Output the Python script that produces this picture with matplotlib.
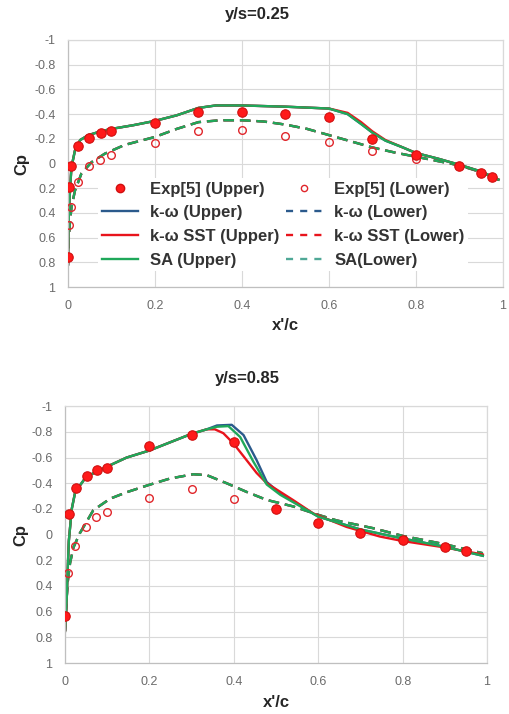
import matplotlib
matplotlib.use('Agg')
import matplotlib.pyplot as plt
from matplotlib.lines import Line2D

plt.rcParams['font.family'] = ['Liberation Sans', 'DejaVu Sans']

# ---- y/s = 0.25 ----
exp25_up_x = [0.0, 0.002, 0.008, 0.024, 0.049, 0.075, 0.1, 0.2, 0.3, 0.4, 0.5, 0.6, 0.7, 0.8, 0.9, 0.95, 0.975]
exp25_up_cp = [0.76, 0.19, 0.02, -0.14, -0.21, -0.25, -0.26, -0.33, -0.415, -0.42, -0.40, -0.38, -0.20, -0.07, 0.02, 0.08, 0.11]
exp25_lo_x = [0.0015, 0.008, 0.022, 0.048, 0.074, 0.1, 0.2, 0.3, 0.4, 0.5, 0.6, 0.7, 0.8]
exp25_lo_cp = [0.50, 0.355, 0.15, 0.02, -0.03, -0.07, -0.165, -0.265, -0.27, -0.22, -0.175, -0.105, -0.04]

up25_x = [0.0, 0.002, 0.005, 0.008, 0.016, 0.028, 0.047, 0.075, 0.1, 0.15, 0.2, 0.25, 0.3, 0.34,
          0.4, 0.5, 0.6, 0.643, 0.674, 0.7, 0.73, 0.77, 0.8, 0.85, 0.9, 0.95, 0.99]
kw25_up = [0.82, 0.41, 0.19, 0.03, -0.105, -0.19, -0.23, -0.26, -0.28, -0.31, -0.345, -0.39, -0.45, -0.47,
           -0.47, -0.46, -0.445, -0.40, -0.32, -0.25, -0.185, -0.13, -0.085, -0.04, 0.01, 0.065, 0.13]
sst25_up = [0.82, 0.41, 0.19, 0.03, -0.105, -0.19, -0.23, -0.26, -0.28, -0.31, -0.345, -0.39, -0.45, -0.47,
            -0.47, -0.46, -0.445, -0.41, -0.335, -0.26, -0.19, -0.13, -0.085, -0.04, 0.01, 0.065, 0.13]
sa25_up = [0.82, 0.41, 0.19, 0.03, -0.105, -0.19, -0.23, -0.26, -0.28, -0.31, -0.345, -0.39, -0.45, -0.47,
           -0.47, -0.46, -0.445, -0.40, -0.32, -0.25, -0.185, -0.13, -0.085, -0.04, 0.01, 0.065, 0.13]

lo25_x = [0.0, 0.001, 0.004, 0.008, 0.016, 0.031, 0.054, 0.085, 0.13, 0.2, 0.25, 0.3, 0.35, 0.4, 0.45,
          0.5, 0.55, 0.6, 0.65, 0.7, 0.75, 0.8, 0.85, 0.9, 0.95, 0.99]
kw25_lo = [0.82, 0.65, 0.5, 0.355, 0.22, 0.08, -0.01, -0.08, -0.15, -0.215, -0.28, -0.335, -0.35, -0.35, -0.34,
           -0.315, -0.28, -0.23, -0.18, -0.13, -0.09, -0.055, -0.02, 0.015, 0.07, 0.13]
sst25_lo = [0.82, 0.65, 0.5, 0.355, 0.22, 0.08, -0.01, -0.08, -0.15, -0.215, -0.28, -0.335, -0.35, -0.35, -0.34,
            -0.315, -0.28, -0.23, -0.18, -0.13, -0.09, -0.055, -0.02, 0.015, 0.07, 0.13]
sa25_lo = [0.82, 0.65, 0.5, 0.355, 0.22, 0.08, -0.01, -0.08, -0.15, -0.215, -0.28, -0.335, -0.35, -0.35, -0.34,
           -0.315, -0.28, -0.23, -0.18, -0.13, -0.09, -0.055, -0.02, 0.015, 0.07, 0.13]

# ---- y/s = 0.85 ----
exp85_up_x = [0.0, 0.01, 0.026, 0.051, 0.075, 0.1, 0.2, 0.3, 0.4, 0.5, 0.6, 0.7, 0.8, 0.9, 0.95]
exp85_up_cp = [0.635, -0.157, -0.36, -0.46, -0.50, -0.52, -0.69, -0.775, -0.725, -0.20, -0.087, -0.01, 0.045, 0.10, 0.13]
exp85_lo_x = [0.007, 0.024, 0.049, 0.074, 0.1, 0.2, 0.3, 0.4]
exp85_lo_cp = [0.30, 0.085, -0.056, -0.136, -0.175, -0.287, -0.357, -0.28]

kw85_up_x = [0.0, 0.004, 0.006, 0.009, 0.016, 0.024, 0.05, 0.1, 0.146, 0.2, 0.25, 0.3, 0.336, 0.36, 0.395,
             0.423, 0.454, 0.478, 0.51, 0.6, 0.7, 0.8, 0.9, 0.99]
kw85_up = [0.75, 0.5, 0.3, 0.05, -0.2, -0.33, -0.45, -0.53, -0.6, -0.655, -0.72, -0.785, -0.82, -0.85, -0.855,
           -0.775, -0.58, -0.41, -0.32, -0.14, -0.04, 0.03, 0.095, 0.165]
sst85_up_x = [0.0, 0.004, 0.006, 0.009, 0.016, 0.024, 0.05, 0.1, 0.146, 0.2, 0.25, 0.3, 0.336, 0.355, 0.375,
              0.399, 0.423, 0.454, 0.478, 0.54, 0.588, 0.667, 0.746, 0.8, 0.9, 0.99]
sst85_up = [0.75, 0.5, 0.3, 0.05, -0.2, -0.33, -0.45, -0.53, -0.6, -0.655, -0.72, -0.785, -0.82, -0.82, -0.79,
            -0.71, -0.61, -0.48, -0.40, -0.27, -0.165, -0.06, 0.015, 0.05, 0.10, 0.155]
sa85_up_x = [0.0, 0.004, 0.006, 0.009, 0.016, 0.024, 0.05, 0.1, 0.146, 0.2, 0.25, 0.3, 0.336, 0.36, 0.387,
             0.415, 0.446, 0.478, 0.51, 0.6, 0.7, 0.8, 0.9, 0.99]
sa85_up = [0.75, 0.5, 0.3, 0.05, -0.2, -0.33, -0.45, -0.53, -0.6, -0.655, -0.72, -0.785, -0.82, -0.84, -0.845,
           -0.76, -0.57, -0.39, -0.31, -0.14, -0.04, 0.03, 0.095, 0.165]

lo85_x = [0.0, 0.003, 0.006, 0.012, 0.02, 0.035, 0.067, 0.107, 0.146, 0.197, 0.249, 0.304, 0.336, 0.383, 0.43,
          0.478, 0.54, 0.604, 0.644, 0.73, 0.8, 0.9, 0.99]
kw85_lo = [0.75, 0.55, 0.38, 0.22, 0.1, -0.01, -0.19, -0.28, -0.33, -0.385, -0.437, -0.47, -0.463, -0.40, -0.333,
           -0.27, -0.22, -0.15, -0.11, -0.05, 0.01, 0.075, 0.145]
sst85_lo = [0.75, 0.55, 0.38, 0.22, 0.1, -0.01, -0.19, -0.28, -0.33, -0.385, -0.437, -0.47, -0.463, -0.40, -0.333,
            -0.27, -0.22, -0.15, -0.11, -0.05, 0.01, 0.075, 0.145]
sa85_lo = [0.75, 0.55, 0.38, 0.22, 0.1, -0.01, -0.19, -0.28, -0.33, -0.385, -0.437, -0.47, -0.463, -0.40, -0.333,
           -0.27, -0.22, -0.15, -0.11, -0.05, 0.01, 0.075, 0.145]

x_ticks = [0, 0.2, 0.4, 0.6, 0.8, 1]
x_tick_labels = ['0', '0.2', '0.4', '0.6', '0.8', '1']
y_ticks = [-1, -0.8, -0.6, -0.4, -0.2, 0, 0.2, 0.4, 0.6, 0.8, 1]
y_tick_labels = ['-1', '-0.8', '-0.6', '-0.4', '-0.2', '0', '0.2', '0.4', '0.6', '0.8', '1']

BLUE = '#2b5a8c'
RED = '#e8141c'
GREEN = '#1fa85a'
DASH = (4.5, 2.5)
LW = 1.7


def style_axes(ax):
    ax.set_xlim(0, 1)
    ax.set_ylim(1, -1)
    ax.set_xticks(x_ticks)
    ax.set_xticklabels(x_tick_labels)
    ax.set_yticks(y_ticks)
    ax.set_yticklabels(y_tick_labels)
    ax.tick_params(length=0, labelsize=9, labelcolor='#6b6b6b', pad=9)
    ax.grid(True, color='#d9d9d9', lw=0.8)
    ax.set_axisbelow(True)
    for s in ['top', 'right']:
        ax.spines[s].set_color('#d9d9d9')
    for s in ['left', 'bottom']:
        ax.spines[s].set_color('#bfbfbf')
    for s in ax.spines.values():
        s.set_linewidth(0.9)
    ax.set_xlabel("x'/c", fontsize=12, fontweight='bold', va='center', color='#262626')
    ax.set_ylabel('Cp', fontsize=12, fontweight='bold', va='center', color='#262626')
    ax.xaxis.set_label_coords(0.5, -0.155)
    ax.yaxis.set_label_coords(-0.105, 0.5)


def draw(ax, ex_u, ec_u, ex_l, ec_l, ux, kw_u, sst_u, sa_u, lx, kw_l, sst_l, sa_l, kux=None, sux=None):
    kux = ux if kux is None else kux
    sux = ux if sux is None else sux
    ax.plot(lx, kw_l, color=BLUE, lw=LW, dashes=DASH)
    ax.plot(lx, sst_l, color=RED, lw=LW, dashes=DASH)
    ax.plot(lx, sa_l, color=GREEN, lw=LW, dashes=DASH)
    ax.plot(kux, kw_u, color=BLUE, lw=LW)
    ax.plot(sux, sst_u, color=RED, lw=LW)
    ax.plot(ux, sa_u, color=GREEN, lw=LW)
    ax.plot(ex_l, ec_l, 'o', ms=5.5, mfc='none', mec='#e0262b', mew=1.0, zorder=4)
    ax.plot(ex_u, ec_u, 'o', ms=6.8, mfc='#ff1a1a', mec='#d01010', mew=0.8, zorder=5)


fig = plt.figure(figsize=(5.1, 7.14), dpi=100)
ax1 = fig.add_axes([0.1333, 0.598, 0.8527, 0.346])
ax2 = fig.add_axes([0.1275, 0.0714, 0.8275, 0.3597])

draw(ax1, exp25_up_x, exp25_up_cp, exp25_lo_x, exp25_lo_cp,
     up25_x, kw25_up, sst25_up, sa25_up, lo25_x, kw25_lo, sst25_lo, sa25_lo)
draw(ax2, exp85_up_x, exp85_up_cp, exp85_lo_x, exp85_lo_cp,
     sa85_up_x, kw85_up, sst85_up, sa85_up, lo85_x, kw85_lo, sst85_lo, sa85_lo,
     kux=kw85_up_x, sux=sst85_up_x)
style_axes(ax1)
style_axes(ax2)

fig.text(257 / 510, 1 - 15 / 714, 'y/s=0.25', ha='center', va='center', fontsize=12, fontweight='bold', color='#262626')
fig.text(247 / 510, 1 - 378 / 714, 'y/s=0.85', ha='center', va='center', fontsize=12, fontweight='bold', color='#262626')

handles = [
    Line2D([], [], ls='none', marker='o', ms=6, mfc='#ff1a1a', mec='#d01010'),
    Line2D([], [], color=BLUE, lw=LW),
    Line2D([], [], color=RED, lw=LW),
    Line2D([], [], color=GREEN, lw=LW),
    Line2D([], [], ls='none', marker='o', ms=4.5, mfc='none', mec='#e0262b', mew=1.0),
    Line2D([], [], color=BLUE, lw=LW, dashes=(3, 3)),
    Line2D([], [], color=RED, lw=LW, dashes=(3, 3)),
    Line2D([], [], color='#4fa896', lw=LW, dashes=(3, 3)),
]
labels = ['Exp[5] (Upper)', 'k-\u03c9 (Upper)', 'k-\u03c9 SST (Upper)', 'SA (Upper)',
          'Exp[5] (Lower)', 'k-\u03c9 (Lower)', 'k-\u03c9 SST (Lower)', 'SA(Lower)']
leg = ax1.legend(handles, labels, ncol=2, loc='upper left', bbox_to_anchor=(0.07, 0.44),
                 frameon=True, facecolor='white', edgecolor='none', framealpha=1, fancybox=False,
                 prop={'size': 12, 'weight': 'bold'}, handlelength=2.2, handletextpad=0.7,
                 columnspacing=0.4, labelspacing=0.52, borderpad=0.2, borderaxespad=0)
for t in leg.get_texts():
    t.set_color('#333333')
leg.set_zorder(10)

fig.savefig('out.png', dpi=100)
